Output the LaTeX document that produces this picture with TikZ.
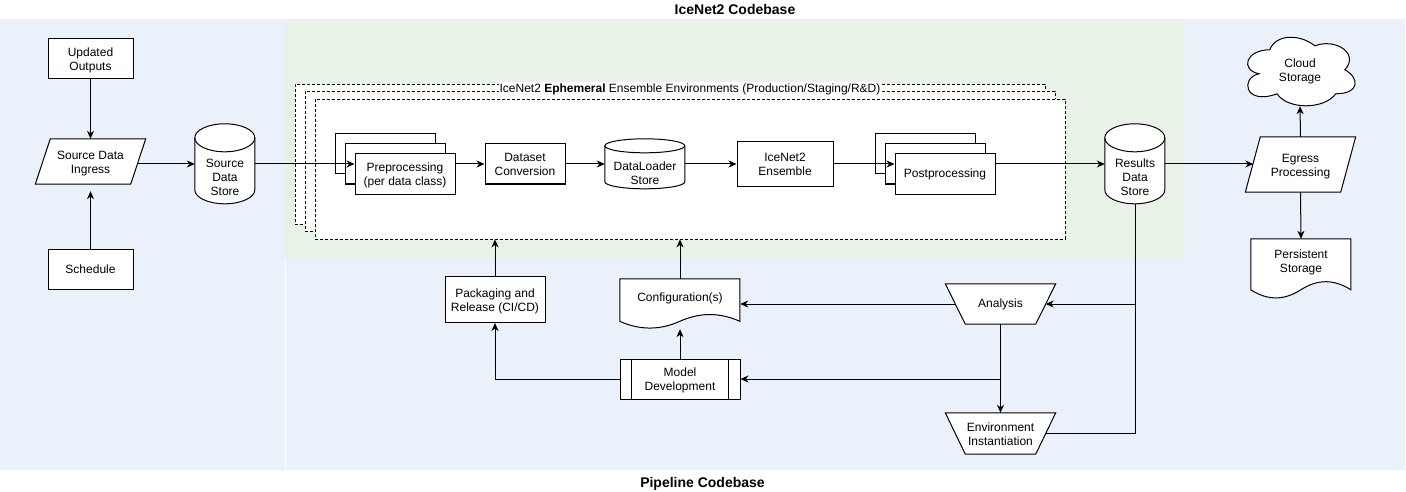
\documentclass[tikz,border=0pt]{standalone}
\usepackage{fontspec}
\setmainfont{Liberation Sans}
\usetikzlibrary{arrows.meta,calc}
\definecolor{bgblue}{HTML}{EBF1FB}
\definecolor{bggreen}{HTML}{E8F2E7}
\pgfdeclarelayer{bglayer}
\pgfdeclarelayer{shplayer}
\pgfsetlayers{bglayer,shplayer,main}
\newcommand\lnT{\rule{0pt}{12pt}}
\newcommand\lnB{\rule[-2.4pt]{0pt}{2.4pt}}
% cylinder: node, width, height, ellipse half-height
\newcommand\drawcyl[4]{%
  \pgfmathsetmacro\cyA{#2/2}%
  \pgfmathsetmacro\cyK{0.5523*#2/2}%
  \pgfmathsetmacro\cyB{0.5523*#4}%
  \pgfmathsetmacro\cyL{#3-#4}%
  \begin{scope}[shift={(#1.north west)}]
    \draw[shp] (0,#4) -- (0,\cyL) .. controls (0,{\cyL+\cyB}) and ({\cyA-\cyK},#3) .. (\cyA,#3)
      .. controls ({\cyA+\cyK},#3) and (#2,{\cyL+\cyB}) .. (#2,\cyL) -- (#2,#4)
      .. controls (#2,{#4-\cyB}) and ({\cyA+\cyK},0) .. (\cyA,0)
      .. controls ({\cyA-\cyK},0) and (0,{#4-\cyB}) .. (0,#4) -- cycle;
    \draw[wire] (0,#4) .. controls (0,{#4+\cyB}) and ({\cyA-\cyK},{2*#4}) .. (\cyA,{2*#4})
      .. controls ({\cyA+\cyK},{2*#4}) and (#2,{#4+\cyB}) .. (#2,#4);
  \end{scope}}
\begin{document}
\begin{tikzpicture}[x=1pt,y=-1pt,
  font=\fontsize{12}{14}\selectfont,
  blk/.style={draw,fill=white,line width=1pt,inner sep=0pt,align=center},
  area/.style={inner sep=0pt,align=center},
  shp/.style={draw,fill=white,line width=1pt},
  wire/.style={line width=1pt},
  conn/.style={line width=1pt,-{Stealth[length=8pt,width=7pt,inset=2.5pt]}},
  envst/.style={draw,fill=white,line width=0.8pt,dash pattern=on 3pt off 2pt,inner sep=0pt},
  ttl/.style={font=\fontsize{14}{16}\selectfont\bfseries}]
\useasboundingbox (0,0) rectangle (1406,492);

\begin{pgfonlayer}{bglayer}
  \fill[bgblue] (0,19) rectangle (1405,470);
  \fill[bggreen] (286,19) rectangle (1185,259);
  \draw[white,line width=0.7pt] (285.5,259) -- (285.5,470);
  \node[envst,minimum width=750pt,minimum height=140pt] (env3) at (670,154) {};
  \node[envst,minimum width=750pt,minimum height=140pt] (env2) at (680,161) {};
  \node[envst,minimum width=750pt,minimum height=140pt] (env) at (690,169) {};
\end{pgfonlayer}

\node[ttl] (t1) at (735,9.5) {IceNet2 Codebase};
\node[ttl] (t2) at (702.5,484) {Pipeline Codebase};
\node[fill=white,inner xsep=1pt,inner ysep=1.5pt] (envlbl) at (690,89)
  {IceNet2 \textbf{Ephemeral} Ensemble Environments (Production/Staging/R\&D)};

% left column
\node[blk,minimum width=85pt,minimum height=40pt] (upd) at (90.5,59) {\lnT Updated\\Outputs\lnB};
\node[area,minimum width=110pt,minimum height=45pt] (ing) at (90.5,161.5) {\lnT Source Data\\Ingress\lnB};
\node[blk,minimum width=85pt,minimum height=40pt] (sch) at (90.5,269) {Schedule};
\node[area,minimum width=60pt,minimum height=80pt] (sds) at (225,164) {};
\node[area] (sdst) at (225,177) {\lnT Source\\Data\\Store\lnB};

% pipeline inside env
\node[blk,minimum width=100pt,minimum height=40pt] (pre3) at (385,154) {};
\node[blk,minimum width=100pt,minimum height=40pt] (pre2) at (395,164) {};
\node[blk,minimum width=100pt,minimum height=40pt] (pre) at (405,174) {\lnT Preprocessing\\(per data class)\lnB};
\node[blk,minimum width=80pt,minimum height=40pt] (dsc) at (525,164) {\lnT Dataset\\Conversion\lnB};
\node[area,minimum width=80pt,minimum height=50pt] (dls) at (645,164) {};
\node[area] (dlst) at (645,172.5) {\lnT DataLoader\\Store\lnB};
\node[blk,minimum width=96pt,minimum height=45pt] (ens) at (785,164) {\lnT IceNet2\\Ensemble\lnB};
\node[blk,minimum width=100pt,minimum height=40pt] (post3) at (925,154) {};
\node[blk,minimum width=100pt,minimum height=40pt] (post2) at (935,164) {};
\node[blk,minimum width=100pt,minimum height=40pt] (post) at (945,174) {Postprocessing};
\node[area,minimum width=60pt,minimum height=80pt] (rds) at (1135,164) {};
\node[area] (rdst) at (1135,177) {\lnT Results\\Data\\Store\lnB};

% right column
\node[area,minimum width=110pt,minimum height=55pt] (egr) at (1300.5,164.5) {\lnT Egress\\Processing\lnB};
\node[area,minimum width=120pt,minimum height=80pt] (cld) at (1300,70) {\lnT Cloud\\Storage\lnB};
\node[area,minimum width=100pt,minimum height=60pt] (pst) at (1301,269) {};
\node[area] (pstt) at (1301,261) {\lnT Persistent\\Storage\lnB};

% lower part
\node[blk,minimum width=100pt,minimum height=46pt] (pkg) at (495,299.5) {\lnT Packaging and\\Release (CI/CD)\lnB};
\node[area,minimum width=120pt,minimum height=50pt] (cfg) at (680,304) {};
\node[area] (cfgt) at (680,298) {Configuration(s)};
\node[blk,minimum width=120pt,minimum height=40pt] (mdl) at (680,379) {\lnT Model\\Development\lnB};
\draw[wire] ($(mdl.north west)+(12,0)$) -- ($(mdl.south west)+(12,0)$);
\draw[wire] ($(mdl.north east)+(-12,0)$) -- ($(mdl.south east)+(-12,0)$);
\node[area,minimum width=110pt,minimum height=40pt] (ana) at (1000.5,304) {Analysis};
\node[area,minimum width=110pt,minimum height=41pt] (ein) at (1000.5,433.5) {\lnT Environment\\Instantiation\lnB};

\begin{pgfonlayer}{shplayer}
  % parallelograms
  \draw[shp] (ing.south west) -- ($(ing.north west)+(15,0)$) -- (ing.north east) -- ($(ing.south east)+(-15,0)$) -- cycle;
  \draw[shp] (egr.south west) -- ($(egr.north west)+(15,0)$) -- (egr.north east) -- ($(egr.south east)+(-15,0)$) -- cycle;
  % trapezoids
  \draw[shp] (ana.north west) -- (ana.north east) -- ($(ana.south east)+(-20,0)$) -- ($(ana.south west)+(20,0)$) -- cycle;
  \draw[shp] (ein.north west) -- (ein.north east) -- ($(ein.south east)+(-20,0)$) -- ($(ein.south west)+(20,0)$) -- cycle;
  % cylinders
  \drawcyl{sds}{60}{80}{14}
  \drawcyl{dls}{80}{50}{7}
  \drawcyl{rds}{60}{80}{14}
  % documents
  \begin{scope}[shift={(pst.north west)}]
    \draw[shp] (0,0) -- (100,0) -- (100,51) .. controls (83.33,40.2) and (66.67,40.2) .. (50,51)
      .. controls (33.33,61.8) and (16.67,61.8) .. (0,51) -- cycle;
  \end{scope}
  \begin{scope}[shift={(cfg.north west)}]
    \draw[shp] (0,0) -- (120,0) -- (120,42.5) .. controls (100,33.5) and (80,33.5) .. (60,42.5)
      .. controls (40,51.5) and (20,51.5) .. (0,42.5) -- cycle;
  \end{scope}
  % cloud
  \begin{scope}[shift={(cld.north west)}]
    \draw[shp] (30,20) .. controls (6,20) and (0,40) .. (19.2,44)
      .. controls (0,48) and (4.8,76) .. (37.2,64)
      .. controls (48,80) and (84,80) .. (96,64)
      .. controls (120,64) and (120,48) .. (105,40)
      .. controls (120,24) and (96,8) .. (75,16)
      .. controls (60,4) and (36,4) .. (30,20) -- cycle;
  \end{scope}
\end{pgfonlayer}

% connectors
\draw[conn] (upd) -- (ing);
\draw[conn,shorten >=7pt] (sch) -- (ing);
\draw[conn] ($(ing.east |- sds.west)+(-9,0)$) -- (sds.west);
\draw[conn] (sds.east) -- (pre.west |- sds.east);
\draw[conn] (pre.east |- dsc.west) -- (dsc.west);
\draw[conn] (dsc) -- (dls);
\draw[conn] (dls) -- (ens);
\draw[conn] (ens.east) -- (post.west |- ens.east);
\draw[conn] (post.east |- rds.west) -- (rds.west);
\draw[conn] (rds.east) -- ($(egr.west |- rds.east)+(8,0)$);
\draw[conn] (egr.north) -- ($(cld.south)+(0,-4)$);
\draw[conn] (egr.south) -- (pst.north);

\draw[conn] (pkg.north) -- (pkg.north |- env.south);
\draw[conn] (cfg.north) -- (cfg.north |- env.south);
\draw[conn] (mdl.north) -- (cfg.south);
\draw[conn] (mdl.west) -| (pkg.south);
\draw[wire] (rds.south) -- (rds.south |- ein.east) -- ($(ein.east)+(-10,0)$);
\draw[conn] (rds.south |- ana.east) -- ($(ana.east)+(-10,0)$);
\draw[conn] ($(ana.west)+(10,0)$) -- (cfg.east);
\draw[conn] (ana.south) -- (ein.north);
\draw[conn] (ana.south |- mdl.east) -- (mdl.east);
\end{tikzpicture}
\end{document}
